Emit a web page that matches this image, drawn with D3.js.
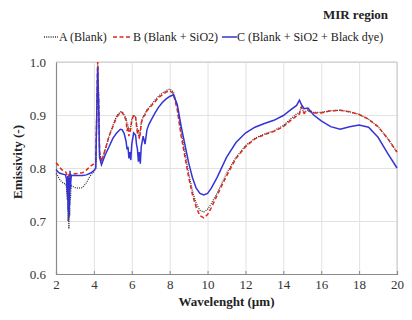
<!DOCTYPE html>
<html>
<head>
<meta charset="utf-8">
<script src="https://cdn.jsdelivr.net/npm/d3@7"></script>
<style>
  body { margin: 0; background: #fff; }
</style>
</head>
<body>
<div id="chart-area"></div>
<script>
// wavelength grid (um), dense where the spectra are noisy
var wavelength = [2.0, 2.1, 2.2, 2.3, 2.4, 2.5, 2.55, 2.6, 2.62, 2.64, 2.66, 2.68, 2.7, 2.72, 2.74, 2.76, 2.8, 2.9, 3.0, 3.2,
    3.4, 3.6, 3.8, 4.0, 4.1, 4.15, 4.2, 4.25, 4.3, 4.4, 4.6, 4.8, 5.0, 5.2, 5.4, 5.5, 5.6, 5.7, 5.75, 5.8, 5.85, 5.9,
    5.95, 6.0, 6.1, 6.2, 6.25, 6.3, 6.35, 6.4, 6.45, 6.5, 6.6, 6.7, 6.8, 6.9, 7.0, 7.2, 7.4, 7.6, 7.8, 8.0, 8.2, 8.4, 8.6, 8.8,
    9.0, 9.2, 9.4, 9.6, 9.8, 10.0, 10.2, 10.5, 11.0, 11.5, 12.0, 12.5, 13.0, 13.5, 14.0, 14.4, 14.7, 14.85, 14.95, 15.1,
    15.3, 15.6, 16.0, 16.5, 17.0, 17.5, 18.0, 18.5, 19.0, 19.5, 20.0];

var blankA = [0.790, 0.785, 0.778, 0.774, 0.771, 0.770, 0.765, 0.740, 0.775, 0.700, 0.770, 0.685, 0.760, 0.710, 0.765, 0.740, 0.768, 0.765, 0.763, 0.762,
    0.763, 0.772, 0.785, 0.793, 0.800, 0.900, 0.995, 0.930, 0.830, 0.812, 0.835, 0.860, 0.880, 0.898, 0.906, 0.905, 0.900, 0.893, 0.885, 0.880, 0.872, 0.870,
    0.880, 0.892, 0.900, 0.895, 0.885, 0.870, 0.862, 0.858, 0.870, 0.885, 0.897, 0.902, 0.910, 0.914, 0.918, 0.927, 0.935, 0.941, 0.946, 0.949, 0.944, 0.915, 0.870, 0.830,
    0.790, 0.757, 0.733, 0.720, 0.717, 0.722, 0.733, 0.752, 0.790, 0.820, 0.842, 0.856, 0.864, 0.870, 0.880, 0.893, 0.902, 0.905, 0.915, 0.905,
    0.910, 0.905, 0.905, 0.908, 0.909, 0.906, 0.901, 0.892, 0.878, 0.856, 0.830];

var blankSiO2 = [0.810, 0.806, 0.801, 0.797, 0.795, 0.793, 0.790, 0.770, 0.785, 0.760, 0.788, 0.750, 0.780, 0.765, 0.790, 0.775, 0.788, 0.789, 0.789, 0.790,
    0.791, 0.796, 0.803, 0.808, 0.812, 0.900, 1.000, 0.930, 0.830, 0.812, 0.835, 0.860, 0.878, 0.896, 0.904, 0.905, 0.898, 0.890, 0.870, 0.878, 0.860, 0.868,
    0.875, 0.890, 0.900, 0.896, 0.880, 0.865, 0.872, 0.855, 0.866, 0.885, 0.896, 0.900, 0.908, 0.912, 0.916, 0.924, 0.932, 0.938, 0.943, 0.946, 0.940, 0.910, 0.862, 0.822,
    0.783, 0.750, 0.726, 0.710, 0.706, 0.712, 0.725, 0.748, 0.785, 0.818, 0.840, 0.855, 0.863, 0.869, 0.878, 0.890, 0.898, 0.902, 0.915, 0.903,
    0.908, 0.904, 0.904, 0.908, 0.909, 0.906, 0.901, 0.892, 0.878, 0.856, 0.830];

var blankSiO2Dye = [0.797, 0.793, 0.790, 0.789, 0.788, 0.787, 0.780, 0.750, 0.785, 0.720, 0.780, 0.705, 0.775, 0.730, 0.795, 0.760, 0.786, 0.786, 0.786, 0.786,
    0.786, 0.787, 0.790, 0.795, 0.800, 0.900, 0.990, 0.920, 0.820, 0.806, 0.825, 0.840, 0.856, 0.866, 0.873, 0.872, 0.865, 0.850, 0.835, 0.840, 0.818, 0.830,
    0.815, 0.845, 0.866, 0.862, 0.845, 0.835, 0.812, 0.830, 0.808, 0.840, 0.860, 0.845, 0.872, 0.882, 0.889, 0.902, 0.914, 0.923, 0.930, 0.935, 0.938, 0.920, 0.880, 0.845,
    0.810, 0.782, 0.762, 0.752, 0.749, 0.752, 0.762, 0.782, 0.820, 0.848, 0.866, 0.877, 0.884, 0.890, 0.899, 0.910, 0.918, 0.928, 0.920, 0.912,
    0.913, 0.900, 0.889, 0.878, 0.873, 0.878, 0.881, 0.877, 0.858, 0.828, 0.800];

var seriesNames = ["A (Blank)", "B (Blank + SiO2)", "C (Blank + SiO2 + Black dye)"];
var xTicks = [2, 4, 6, 8, 10, 12, 14, 16, 18, 20];
var yTicks = [0.6, 0.7, 0.8, 0.9, 1.0];

var serif = "'Liberation Serif', 'DejaVu Serif', serif";

var margin = { top: 62, bottom: 46, left: 56, right: 15 };
var width = 412 - margin.left - margin.right,
    height = 320 - margin.top - margin.bottom;

var svg = d3.select("#chart-area")
    .append("svg")
        .attr("width", 412)
        .attr("height", 320)
        .attr("font-family", serif);

var g = svg.append("g")
    .attr("transform", "translate(" + margin.left + "," + margin.top + ")");

var x = d3.scaleLinear().domain([2, 20]).range([0, width]);
var y = d3.scaleLinear().domain([0.6, 1.0]).range([height, 0]);

// grid lines
g.append("g")
    .call(d3.axisBottom(x).tickValues(xTicks).tickSize(-height).tickFormat(""))
    .attr("transform", "translate(0," + height + ")")
    .call(a => a.select(".domain").remove())
    .selectAll("line").attr("stroke", "#e2e2e2");
g.append("g")
    .call(d3.axisLeft(y).tickValues(yTicks).tickSize(-width).tickFormat(""))
    .call(a => a.select(".domain").remove())
    .selectAll("line").attr("stroke", "#e2e2e2");

// frame (top and right)
g.append("path")
    .attr("d", "M0,0H" + width + "V" + height)
    .attr("fill", "none")
    .attr("stroke", "#c8c8c8");

// axes
var xAxis = g.append("g")
    .attr("transform", "translate(0," + height + ")")
    .call(d3.axisBottom(x).tickValues(xTicks).tickSize(-3).tickPadding(6).tickFormat(d3.format("d")));
var yAxis = g.append("g")
    .call(d3.axisLeft(y).tickValues(yTicks).tickSize(0).tickPadding(10).tickFormat(d3.format(".1f")));
[xAxis, yAxis].forEach(a => {
    a.attr("font-family", serif).attr("font-size", 13);
    a.select(".domain").attr("stroke", "#8a8a8a").attr("stroke-width", 1.2);
    a.selectAll("line").attr("stroke", "#8a8a8a");
    a.selectAll("text").attr("fill", "#333");
});

// lines
var line = d3.line()
    .x((d, i) => x(wavelength[i]))
    .y(d => y(d));

g.append("path")
    .datum(blankA)
    .attr("fill", "none")
    .attr("stroke", "#333")
    .attr("stroke-width", 1.3)
    .attr("stroke-dasharray", "1,1.2")
    .attr("d", line);
g.append("path")
    .datum(blankSiO2)
    .attr("fill", "none")
    .attr("stroke", "#e0261f")
    .attr("stroke-width", 1.5)
    .attr("stroke-dasharray", "4,2.5")
    .attr("d", line);
g.append("path")
    .datum(blankSiO2Dye)
    .attr("fill", "none")
    .attr("stroke", "#3434d6")
    .attr("stroke-width", 1.5)
    .attr("d", line);

// axis titles
svg.append("text")
    .attr("x", margin.left + width / 2)
    .attr("y", 306)
    .attr("text-anchor", "middle")
    .attr("font-size", 13)
    .attr("font-weight", "bold")
    .attr("fill", "#222")
    .text("Wavelenght (\u00b5m)");
svg.append("text")
    .attr("transform", "translate(22,162) rotate(-90)")
    .attr("text-anchor", "middle")
    .attr("font-size", 13)
    .attr("font-weight", "bold")
    .attr("fill", "#222")
    .text("Emissivity (-)");

// title
svg.append("text")
    .attr("x", 388)
    .attr("y", 19)
    .attr("text-anchor", "end")
    .attr("font-size", 13)
    .attr("font-weight", "bold")
    .attr("fill", "#222")
    .text("MIR region");

// legend
var legendItems = [
    { name: seriesNames[0], color: "#333", dash: "1,1.2", x0: 44, x1: 58, tx: 59 },
    { name: seriesNames[1], color: "#e0261f", dash: "4,2.5", x0: 113, x1: 132, tx: 133 },
    { name: seriesNames[2], color: "#3434d6", dash: null, x0: 222, x1: 237, tx: 237 }
];
var legend = svg.append("g").attr("transform", "translate(0,41)");
legend.selectAll("line")
    .data(legendItems)
    .enter().append("line")
        .attr("x1", d => d.x0)
        .attr("x2", d => d.x1)
        .attr("y1", -4)
        .attr("y2", -4)
        .attr("stroke", d => d.color)
        .attr("stroke-width", 1.5)
        .attr("stroke-dasharray", d => d.dash);
legend.selectAll("text")
    .data(legendItems)
    .enter().append("text")
        .attr("x", d => d.tx)
        .attr("y", 0)
        .attr("font-size", 12)
        .attr("fill", "#222")
        .text(d => d.name);
</script>
</body>
</html>
